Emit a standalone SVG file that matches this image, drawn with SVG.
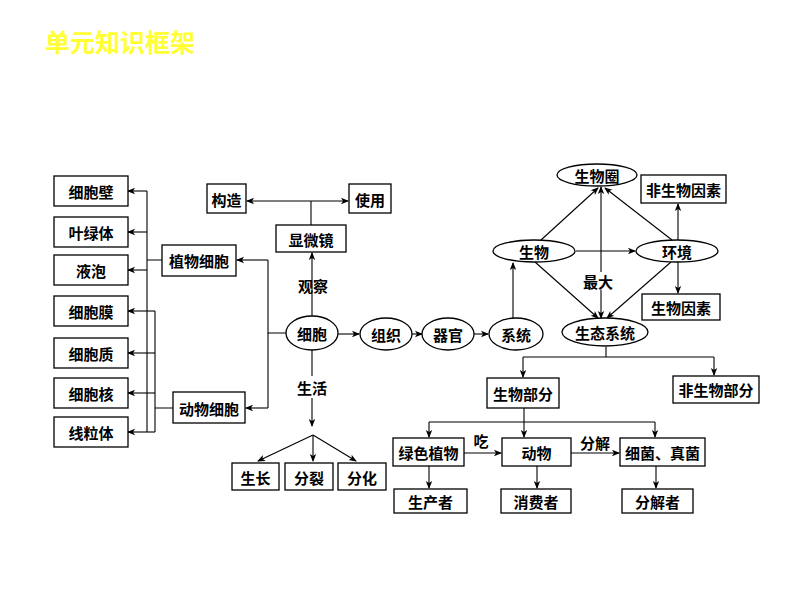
<svg xmlns="http://www.w3.org/2000/svg" width="800" height="600" viewBox="0 0 800 600">
<style>
.b{fill:#fff;stroke:#000;stroke-width:1.3}
.t{font-family:"Noto Sans CJK SC","Liberation Sans",sans-serif;font-size:15px;font-weight:bold;fill:#000;text-anchor:middle;dominant-baseline:central}
.l{fill:none;stroke:#000;stroke-width:1.1}
.a{fill:none;stroke:#000;stroke-width:1.1;marker-end:url(#ah)}
.title{font-family:"Noto Sans CJK SC",sans-serif;font-size:25px;font-weight:bold;fill:#ffff33}
</style>
<defs>
<marker id="ah" markerWidth="8" markerHeight="8" refX="7" refY="4" orient="auto" markerUnits="userSpaceOnUse">
<path d="M0,0.8 L8,4 L0,7.2 L2,4 Z" fill="#000"/>
</marker>
</defs>
<rect width="800" height="600" fill="#fff"/>
<text class="title" x="45" y="52">单元知识框架</text>

<g id="connectors">
<path class="l" d="M147,191 V432 M147,260 H162"/>
<path class="a" d="M147,191 H128"/>
<path class="a" d="M147,232 H128"/>
<path class="a" d="M147,270 H128"/>
<path class="a" d="M155,311 H128"/>
<path class="a" d="M155,353 H128"/>
<path class="a" d="M155,393 H128"/>
<path class="a" d="M155,432 H128"/>
<path class="l" d="M155,311 V432 M155,408 H173"/>
<path class="l" d="M286,333 H268 V260"/>
<path class="a" d="M268,260 H237"/>
<path class="l" d="M268,333 V408"/>
<path class="a" d="M268,408 H246"/>
<path class="a" d="M312,316 V253"/>
<path class="l" d="M311,225 V201"/>
<path class="a" d="M311,201 H247"/>
<path class="a" d="M311,201 H348"/>
<path class="a" d="M338,334 H359"/>
<path class="a" d="M412,334 H422"/>
<path class="a" d="M474,334 H488"/>
<path class="l" d="M312,350 V376"/>
<path class="a" d="M312,398 V426"/>
<path class="a" d="M313,435 V461"/>
<path class="a" d="M313,435 L258,461"/>
<path class="a" d="M313,435 L356,461"/>
<path class="a" d="M513,318 V263"/>
<path class="a" d="M541,240 L598,188"/>
<path class="a" d="M672,240 L605,188"/>
<path class="a" d="M601,272 V187"/>
<path class="a" d="M601,290 V318"/>
<path class="a" d="M576,251 H635"/>
<path class="a" d="M678,240 V204"/>
<path class="a" d="M678,262 V293"/>
<path class="a" d="M535,262 L598,318"/>
<path class="a" d="M671,262 L607,318"/>
<path class="l" d="M606,347 V357 M523,357 H714"/>
<path class="a" d="M523,357 V377"/>
<path class="a" d="M714,357 V375"/>
<path class="l" d="M524,408 V422 M429,422 H655"/>
<path class="a" d="M429,422 V437"/>
<path class="a" d="M524,422 V437"/>
<path class="a" d="M655,422 V437"/>
<path class="a" d="M464,453 H501"/>
<path class="a" d="M571,453 H619"/>
<path class="a" d="M429,466 V488"/>
<path class="a" d="M537,466 V488"/>
<path class="a" d="M656,466 V488"/>
</g>

<g id="labels">
<text class="t" x="313" y="285">观察</text>
<text class="t" x="312" y="387">生活</text>
<text class="t" x="598" y="281">最大</text>
<text class="t" x="481" y="440">吃</text>
<text class="t" x="595" y="442">分解</text>
</g>

<g id="n-xibaobi"><rect class="b" x="54" y="176" width="74" height="30"/><text class="t" x="91" y="191">细胞壁</text></g>
<g id="n-yelvti"><rect class="b" x="54" y="217" width="74" height="30"/><text class="t" x="91" y="232">叶绿体</text></g>
<g id="n-yepao"><rect class="b" x="54" y="255" width="74" height="30"/><text class="t" x="91" y="270">液泡</text></g>
<g id="n-xibaomo"><rect class="b" x="54" y="296" width="74" height="30"/><text class="t" x="91" y="311">细胞膜</text></g>
<g id="n-xibaozhi"><rect class="b" x="54" y="338" width="74" height="30"/><text class="t" x="91" y="353">细胞质</text></g>
<g id="n-xibaohe"><rect class="b" x="54" y="378" width="74" height="30"/><text class="t" x="91" y="393">细胞核</text></g>
<g id="n-xianliti"><rect class="b" x="54" y="417" width="74" height="30"/><text class="t" x="91" y="432">线粒体</text></g>

<g id="n-zhiwuxibao"><rect class="b" x="162" y="245" width="74" height="31"/><text class="t" x="199" y="260">植物细胞</text></g>
<g id="n-dongwuxibao"><rect class="b" x="173" y="392" width="72" height="31"/><text class="t" x="209" y="408">动物细胞</text></g>

<g id="n-gouzao"><rect class="b" x="207" y="184" width="39" height="29"/><text class="t" x="226.5" y="199">构造</text></g>
<g id="n-shiyong"><rect class="b" x="349" y="184" width="42" height="29"/><text class="t" x="370" y="199">使用</text></g>
<g id="n-xianweijing"><rect class="b" x="276" y="225" width="70" height="27"/><text class="t" x="311" y="239">显微镜</text></g>

<g id="n-xibao"><ellipse class="b" cx="312" cy="333" rx="26" ry="17"/><text class="t" x="312" y="333">细胞</text></g>
<g id="n-zuzhi"><ellipse class="b" cx="386" cy="334" rx="26" ry="16"/><text class="t" x="386" y="334">组织</text></g>
<g id="n-qiguan"><ellipse class="b" cx="448" cy="334" rx="26" ry="16"/><text class="t" x="448" y="334">器官</text></g>
<g id="n-xitong"><ellipse class="b" cx="516" cy="334" rx="27" ry="16"/><text class="t" x="516" y="334">系统</text></g>

<g id="n-shengzhang"><rect class="b" x="232" y="463" width="47" height="27"/><text class="t" x="255.5" y="477">生长</text></g>
<g id="n-fenlie"><rect class="b" x="285" y="463" width="48" height="27"/><text class="t" x="309" y="477">分裂</text></g>
<g id="n-fenhua"><rect class="b" x="338" y="463" width="48" height="27"/><text class="t" x="362" y="477">分化</text></g>

<g id="n-shengwuquan"><ellipse class="b" cx="597" cy="175" rx="40" ry="11"/><text class="t" x="597" y="175">生物圈</text></g>
<g id="n-feishengwuyinsu"><rect class="b" x="641" y="175" width="85" height="28"/><text class="t" x="683.5" y="189">非生物因素</text></g>
<g id="n-shengwu"><ellipse class="b" cx="534" cy="251" rx="41" ry="11"/><text class="t" x="534" y="251">生物</text></g>
<g id="n-huanjing"><ellipse class="b" cx="677" cy="251" rx="41" ry="11"/><text class="t" x="677" y="251">环境</text></g>
<g id="n-shengwuyinsu"><rect class="b" x="642" y="294" width="78" height="26"/><text class="t" x="681" y="307">生物因素</text></g>
<g id="n-shengtaixitong"><ellipse class="b" cx="605" cy="332" rx="43" ry="14"/><text class="t" x="605" y="332">生态系统</text></g>

<g id="n-shengwubufen"><rect class="b" x="487" y="378" width="72" height="30"/><text class="t" x="523" y="393">生物部分</text></g>
<g id="n-feishengwubufen"><rect class="b" x="673" y="376" width="86" height="27"/><text class="t" x="716" y="389.5">非生物部分</text></g>

<g id="n-lvsezhiwu"><rect class="b" x="393" y="438" width="71" height="28"/><text class="t" x="428.5" y="452">绿色植物</text></g>
<g id="n-dongwu"><rect class="b" x="502" y="438" width="69" height="28"/><text class="t" x="536.5" y="452">动物</text></g>
<g id="n-xijunzhenjun"><rect class="b" x="620" y="438" width="85" height="28"/><text class="t" x="662.5" y="452">细菌、真菌</text></g>

<g id="n-shengchanzhe"><rect class="b" x="394" y="489" width="73" height="24"/><text class="t" x="430.5" y="501">生产者</text></g>
<g id="n-xiaofeizhe"><rect class="b" x="501" y="489" width="70" height="24"/><text class="t" x="536" y="501">消费者</text></g>
<g id="n-fenjiezhe"><rect class="b" x="622" y="489" width="71" height="24"/><text class="t" x="657.5" y="501">分解者</text></g>
</svg>
